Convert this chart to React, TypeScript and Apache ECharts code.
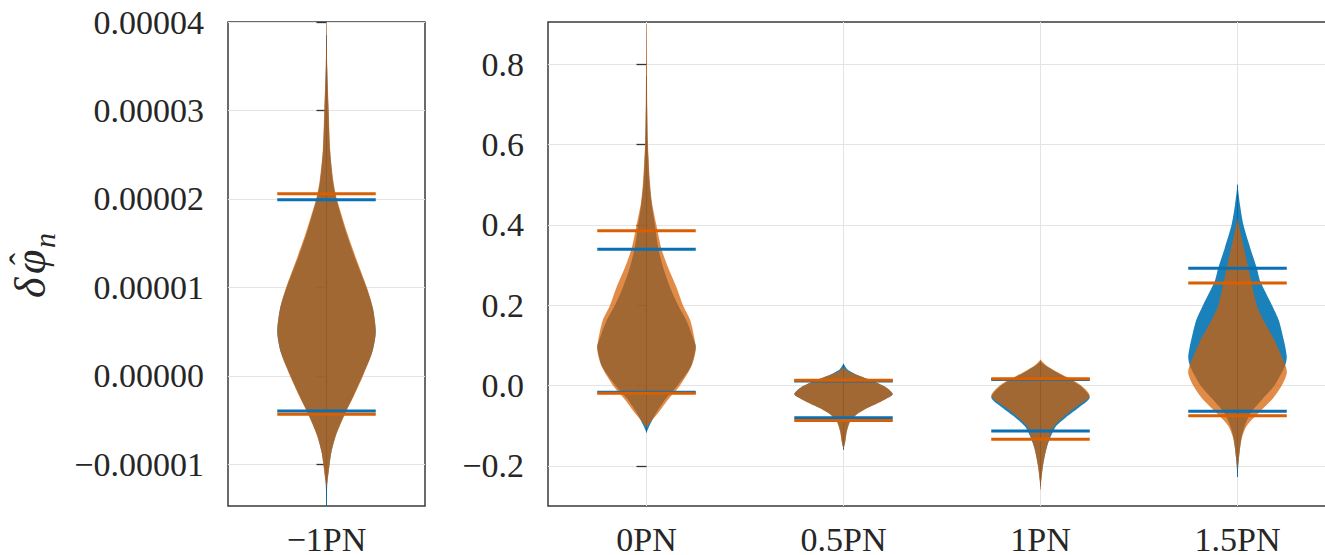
import React, { useEffect, useRef } from 'react';
import * as echarts from 'echarts';

// ---- categories and ticks ----
const leftCategories = ['\u22121PN'];
const rightCategories = ['0PN', '0.5PN', '1PN', '1.5PN'];
const leftTicks = [-0.00001, 0, 0.00001, 0.00002, 0.00003, 0.00004];
const rightTicks = [-0.2, 0, 0.2, 0.4, 0.6, 0.8];
const leftRange = [-0.0000147, 0.00004];
const rightRange = [-0.3, 0.905];

// ---- violin profiles: [value, relative half-width] ----
const blueM1PN = [
  [-1.47e-5, 0], [-1.3e-5, 0.01], [-1.19e-5, 0.02], [-1.0e-5, 0.06], [-0.86e-5, 0.1], [-0.67e-5, 0.19],
  [-0.43e-5, 0.37], [-0.22e-5, 0.55], [0, 0.73], [0.27e-5, 0.93], [0.5e-5, 1.0], [0.77e-5, 0.94],
  [1.0e-5, 0.81], [1.33e-5, 0.58], [1.6e-5, 0.41], [2.0e-5, 0.2], [2.2e-5, 0.13], [2.55e-5, 0.07],
  [3.0e-5, 0.04], [3.5e-5, 0.012], [3.85e-5, 0],
];
const orangeM1PN = [
  [-1.26e-5, 0], [-1.19e-5, 0.02], [-1.0e-5, 0.065], [-0.86e-5, 0.1], [-0.67e-5, 0.195],
  [-0.43e-5, 0.375], [-0.22e-5, 0.56], [0, 0.74], [0.27e-5, 0.93], [0.5e-5, 1.0], [0.77e-5, 0.94],
  [1.0e-5, 0.82], [1.33e-5, 0.6], [1.6e-5, 0.43], [2.0e-5, 0.21], [2.2e-5, 0.14], [2.55e-5, 0.075],
  [3.0e-5, 0.045], [3.5e-5, 0.015], [4.0e-5, 0],
];
const blue0PN = [
  [-0.117, 0], [-0.1, 0.06], [-0.068, 0.2], [-0.035, 0.38], [0, 0.63], [0.047, 0.9], [0.096, 1.0],
  [0.113, 0.96], [0.162, 0.81], [0.2, 0.64], [0.244, 0.48], [0.293, 0.34], [0.342, 0.24], [0.4, 0.17],
  [0.457, 0.1], [0.507, 0.06], [0.6, 0.025], [0.7, 0.01], [0.77, 0],
];
const orange0PN = [
  [-0.105, 0], [-0.093, 0.07], [-0.068, 0.24], [-0.035, 0.44], [0, 0.68], [0.047, 0.91], [0.088, 1.0],
  [0.113, 0.98], [0.162, 0.89], [0.2, 0.74], [0.244, 0.61], [0.293, 0.44], [0.342, 0.3], [0.4, 0.2],
  [0.457, 0.11], [0.507, 0.07], [0.6, 0.03], [0.7, 0.015], [0.8, 0.008], [0.9, 0],
];
const blue05PN = [
  [-0.16, 0], [-0.138, 0.035], [-0.114, 0.065], [-0.089, 0.13], [-0.072, 0.26], [-0.056, 0.48],
  [-0.039, 0.77], [-0.022, 1.0], [-0.006, 0.88], [0.011, 0.6], [0.027, 0.27], [0.04, 0.08], [0.054, 0],
];
const orange05PN = [
  [-0.157, 0], [-0.138, 0.04], [-0.114, 0.07], [-0.089, 0.14], [-0.072, 0.27], [-0.056, 0.49],
  [-0.039, 0.78], [-0.022, 1.0], [-0.006, 0.88], [0.011, 0.6], [0.027, 0.27], [0.035, 0.1], [0.045, 0],
];
const blue1PN = [
  [-0.25, 0], [-0.2, 0.05], [-0.153, 0.13], [-0.104, 0.3], [-0.079, 0.52], [-0.055, 0.78], [-0.03, 1.0],
  [0.0, 0.8], [0.035, 0.3], [0.05, 0.1], [0.06, 0],
];
const orange1PN = [
  [-0.259, 0], [-0.234, 0.02], [-0.193, 0.06], [-0.153, 0.13], [-0.104, 0.26], [-0.079, 0.46],
  [-0.055, 0.7], [-0.026, 1.0], [0.0024, 0.8], [0.035, 0.32], [0.05, 0.12], [0.064, 0],
];
const blue15PN = [
  [-0.228, 0], [-0.18, 0.03], [-0.13, 0.08], [-0.1, 0.15], [-0.068, 0.27], [-0.035, 0.5], [0, 0.75],
  [0.047, 0.96], [0.071, 1.0], [0.113, 0.94], [0.162, 0.84], [0.2, 0.7], [0.26, 0.46], [0.293, 0.39],
  [0.342, 0.26], [0.4, 0.12], [0.45, 0.05], [0.5, 0],
];
const orange15PN = [
  [-0.21, 0], [-0.18, 0.03], [-0.15, 0.06], [-0.126, 0.1], [-0.1, 0.19], [-0.068, 0.43], [-0.035, 0.7],
  [0, 0.9], [0.03, 1.0], [0.047, 0.98], [0.113, 0.75], [0.162, 0.53], [0.2, 0.39], [0.293, 0.22],
  [0.342, 0.13], [0.38, 0.06], [0.416, 0],
];
const blueProfilesLeft = [blueM1PN];
const orangeProfilesLeft = [orangeM1PN];
const blueProfilesRight = [blue0PN, blue05PN, blue1PN, blue15PN];
const orangeProfilesRight = [orange0PN, orange05PN, orange1PN, orange15PN];

// ---- quantile lines: [low, high] ----
const blueQuantLeft = [[-0.00000397, 0.0000199]];
const orangeQuantLeft = [[-0.00000432, 0.0000206]];
const blueQuantRight = [[-0.017, 0.339], [-0.080, 0.0115], [-0.113, 0.015], [-0.064, 0.292]];
const orangeQuantRight = [[-0.019, 0.385], [-0.087, 0.013], [-0.134, 0.017], [-0.0756, 0.255]];

const BLUE_FILL = 'rgba(1,115,178,0.9)';
const ORANGE_FILL = 'rgba(213,94,0,0.72)';
const BLUE_LINE = '#0a6fb3';
const ORANGE_LINE = '#d95f02';
const TEXT = '#262626';
const FONT = 'Liberation Serif';
const HALF = 0.25;

function fmtLeft(v: number) {
  const s = Math.abs(v).toFixed(5);
  return (v < -1e-12 ? '\u2212' : '') + s;
}
function fmtRight(v: number) {
  const s = Math.abs(v).toFixed(1);
  return (v < -1e-9 ? '\u2212' : '') + s;
}

function violinRender(profiles: number[][][], fill: string, center: string) {
  return (params: any, api: any) => {
    const i = params.dataIndex;
    const prof = profiles[i];
    const x = api.value(0);
    const c0 = api.coord([x, prof[0][0]]);
    const half = api.coord([x + HALF, prof[0][0]])[0] - c0[0];
    const right = prof.map(([v, w]) => {
      const p = api.coord([x, v]);
      return [p[0] + w * half, p[1]];
    });
    const left = prof
      .slice()
      .reverse()
      .map(([v, w]) => {
        const p = api.coord([x, v]);
        return [p[0] - w * half, p[1]];
      });
    const top = api.coord([x, prof[prof.length - 1][0]]);
    return {
      type: 'group',
      children: [
        {
          type: 'polygon',
          shape: { points: right.concat(left), smooth: 0.25 },
          style: { fill, stroke: 'none' },
          silent: true,
        },
        {
          type: 'line',
          shape: { x1: c0[0], y1: c0[1], x2: top[0], y2: top[1] },
          style: { stroke: center, lineWidth: 1 },
          silent: true,
        },
      ],
    };
  };
}

function quantRender(quants: number[][], color: string) {
  return (params: any, api: any) => {
    const i = params.dataIndex;
    const x = api.value(0);
    const children = quants[i].map((q) => {
      const a = api.coord([x - HALF, q]);
      const b = api.coord([x + HALF, q]);
      return {
        type: 'line',
        shape: { x1: a[0], y1: a[1], x2: b[0], y2: b[1] },
        style: { stroke: color, lineWidth: 3 },
        silent: true,
      };
    });
    return { type: 'group', children };
  };
}

function makeSeries(gridIdx: number, cats: string[], bp: any, op: any, bq: any, oq: any) {
  const data = cats.map((_, i) => [i, 0]);
  const common = {
    type: 'custom',
    xAxisIndex: gridIdx,
    yAxisIndex: gridIdx,
    data,
    encode: { x: 0, y: 1 },
    clip: true,
    silent: true,
  };
  return [
    { ...common, renderItem: violinRender(bp, BLUE_FILL, 'rgba(1,100,160,0.9)'), z: 2 },
    { ...common, renderItem: violinRender(op, ORANGE_FILL, 'rgba(150,80,30,0.45)'), z: 3 },
    { ...common, renderItem: quantRender(bq, BLUE_LINE), z: 4 },
    { ...common, renderItem: quantRender(oq, ORANGE_LINE), z: 5 },
  ];
}

const axisTickStyle = { color: '#333', width: 1.3 };
const splitStyle = { color: '#e4e4e4', width: 1 };

function xAxisFor(gridIdx: number, cats: string[]) {
  const vals = cats.map((_, i) => i);
  return {
    type: 'value',
    gridIndex: gridIdx,
    min: -0.5,
    max: cats.length - 0.5,
    axisLine: { show: false },
    axisTick: { show: true, length: 10, customValues: vals, lineStyle: axisTickStyle },
    axisLabel: {
      customValues: vals,
      formatter: (v: number) => cats[Math.round(v)],
      fontFamily: FONT,
      fontSize: 34,
      color: TEXT,
      margin: 16,
    },
    splitLine: { show: true, lineStyle: splitStyle },
  };
}

function yAxisFor(gridIdx: number, range: number[], ticks: number[], fmt: (v: number) => string) {
  return {
    type: 'value',
    gridIndex: gridIdx,
    min: range[0],
    max: range[1],
    axisLine: { show: false },
    axisTick: { show: true, length: 10, customValues: ticks, lineStyle: axisTickStyle },
    axisLabel: {
      customValues: ticks,
      formatter: fmt,
      fontFamily: FONT,
      fontSize: 34,
      color: TEXT,
      margin: 24,
    },
    splitLine: { show: true, lineStyle: splitStyle },
  };
}

export default function App() {
  const ref = useRef<HTMLDivElement>(null);
  useEffect(() => {
    document.body.style.margin = '0';
    if (!ref.current) return;
    const chart = echarts.init(ref.current, null, { renderer: 'svg' });
    const gridBase = {
      top: 22,
      height: 484,
      show: true,
      borderColor: '#3a3a3a',
      borderWidth: 1.5,
      backgroundColor: 'transparent',
      containLabel: false,
      outerBoundsMode: 'none',
    };
    const mathFont = (px: number, italic: boolean) =>
      (italic ? 'italic ' : '') + px + 'px "Liberation Serif"';
    const option: any = {
      animation: false,
      backgroundColor: '#ffffff',
      grid: [
        { ...gridBase, left: 228, width: 197 },
        { ...gridBase, left: 548, width: 788 },
      ],
      xAxis: [xAxisFor(0, leftCategories), xAxisFor(1, rightCategories)],
      yAxis: [
        yAxisFor(0, leftRange, leftTicks, fmtLeft),
        yAxisFor(1, rightRange, rightTicks, fmtRight),
      ],
      series: [
        ...makeSeries(0, leftCategories, blueProfilesLeft, orangeProfilesLeft, blueQuantLeft, orangeQuantLeft),
        ...makeSeries(1, rightCategories, blueProfilesRight, orangeProfilesRight, blueQuantRight, orangeQuantRight),
      ],
      graphic: [
        {
          type: 'group',
          x: 45,
          y: 298,
          rotation: Math.PI / 2,
          children: [
            {
              type: 'text',
              x: 0,
              y: -15,
              style: { text: '\u03B4', font: mathFont(44, true), fill: TEXT, textAlign: 'left', textVerticalAlign: 'middle' },
            },
            {
              type: 'text',
              x: 24,
              y: -15,
              style: { text: '\u03C6', font: mathFont(44, true), fill: TEXT, textAlign: 'left', textVerticalAlign: 'middle' },
            },
            {
              type: 'text',
              x: 33,
              y: -22,
              style: { text: '\u02C6', font: mathFont(36, false), fill: TEXT, textAlign: 'left', textVerticalAlign: 'middle' },
            },
            {
              type: 'text',
              x: 50,
              y: -1,
              style: { text: 'n', font: mathFont(30, true), fill: TEXT, textAlign: 'left', textVerticalAlign: 'middle' },
            },
          ],
        },
      ],
    };
    chart.setOption(option);
    return () => chart.dispose();
  }, []);
  return <div ref={ref} style={{ width: 1325, height: 555, overflow: 'hidden' }} />;
}
